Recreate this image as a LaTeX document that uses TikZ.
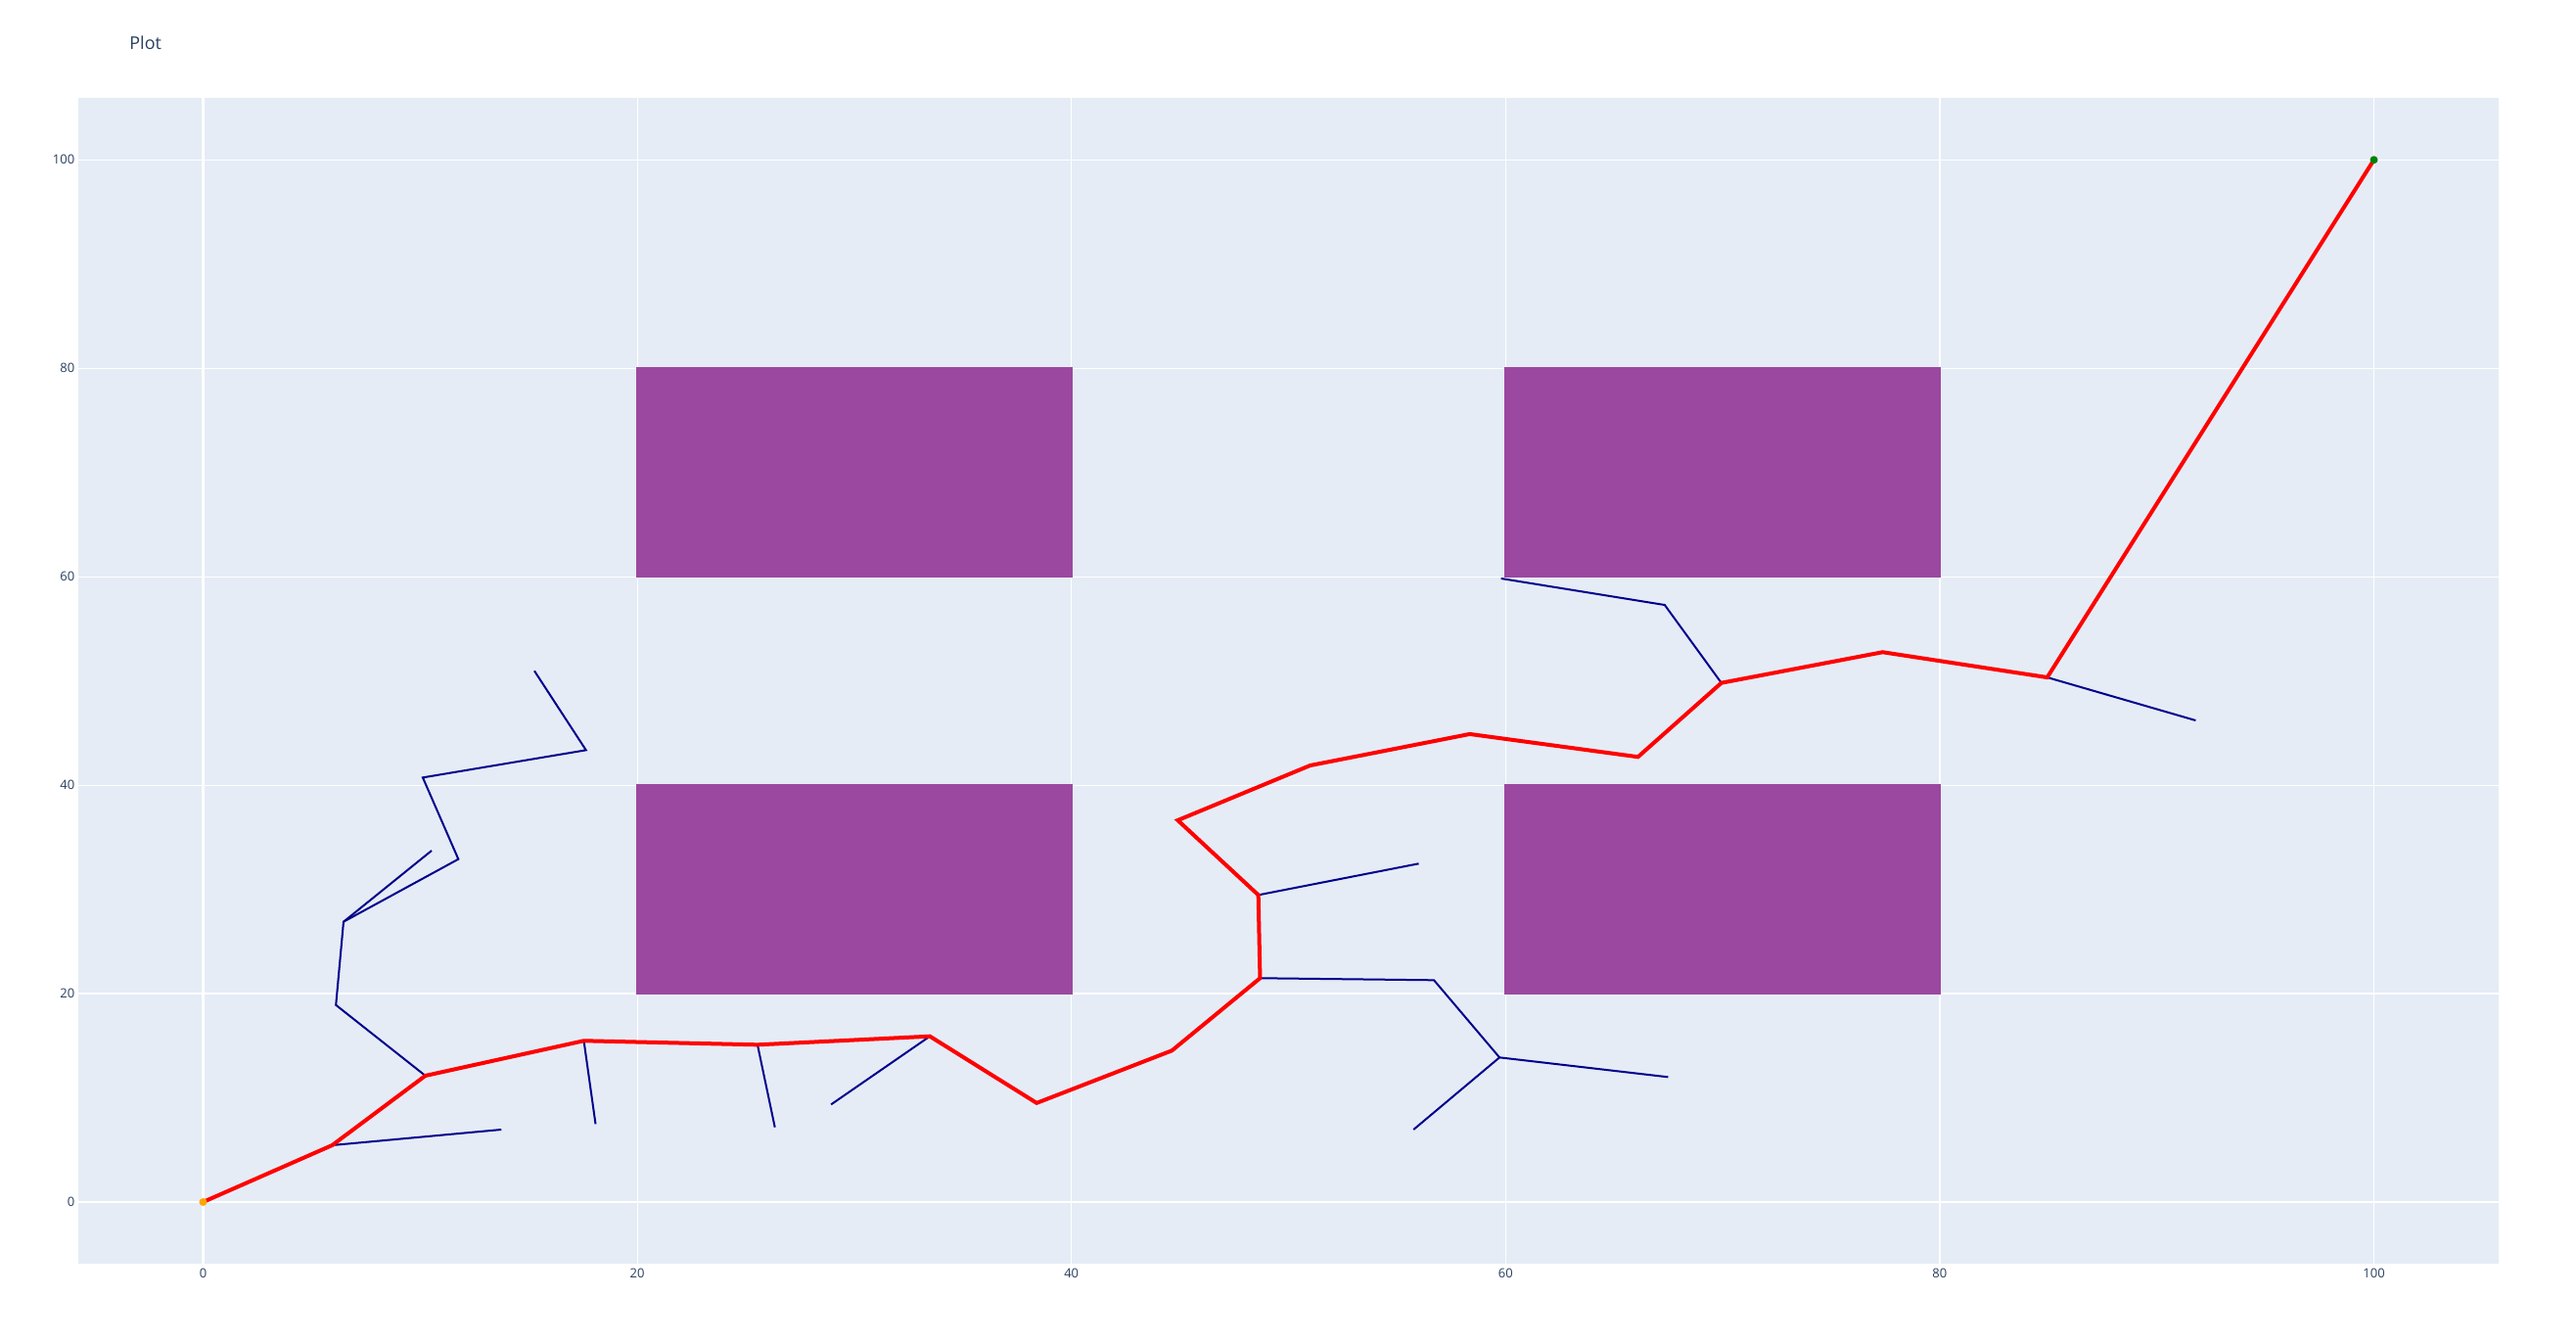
\documentclass[tikz,border=0pt]{standalone}
\usepackage{fontspec}
\setmainfont{Open Sans}

\begin{document}
\begin{tikzpicture}[
        x=0.4436cm, y=0.21294cm,
        gridline/.style={draw=white, line width=0.024cm},
        zeroline/.style={draw=white, line width=0.048cm},
        obstacle/.style={fill=Obstacle, draw=Obstacle, line width=0.04cm},
        branch/.style={draw=Branch, line width=0.04cm, line join=miter},
        route/.style={draw=Route, line width=0.08cm, line join=miter},
        marker/.style={circle, inner sep=0pt, minimum size=0.16cm},
        ticklabel/.style={text=Axis, font=\fontsize{7.4}{8}\selectfont, inner sep=0pt},
    ]
        \definecolor{Plotbg}{RGB}{229,236,246}
        \definecolor{Axis}{RGB}{42,63,95}
        \definecolor{Obstacle}{RGB}{155,72,160}
        \definecolor{Branch}{RGB}{0,0,139}
        \definecolor{Route}{RGB}{255,0,0}
        \definecolor{Start}{RGB}{255,165,0}
        \definecolor{Goal}{RGB}{0,128,0}

        % Canvas
        \useasboundingbox (-9.355,-13.43) rectangle (109.31,115.34);
        \fill[white] (-9.355,-13.43) rectangle (109.31,115.34);
        \fill[Plotbg] (-5.76,-5.92) rectangle (105.75,105.95);

        % Grid
        \foreach \v in {20,40,...,100} {
            \draw[gridline] (\v,-5.92) -- (\v,105.95);
            \draw[gridline] (-5.76,\v) -- (105.75,\v);
        }
        \draw[zeroline] (0,-5.92) -- (0,105.95);
        \draw[zeroline] (-5.76,0) -- (105.75,0);

        % Ticks
        \foreach \v in {0,20,...,100} {
            \node[ticklabel] (xtick\v) at (\v,-6.83) {\v};
            \node[ticklabel, anchor=east] (ytick\v) at (-5.9,\v) {\v};
        }

        % Title
        \node[anchor=base west, text=Axis, font=\fontsize{10.2}{12}\selectfont, inner sep=0pt] (title) at (-3.40,110.57) {Plot};

        % Obstacles
        \filldraw[obstacle] (20,20) rectangle (40,40);
        \filldraw[obstacle] (20,60) rectangle (40,80);
        \filldraw[obstacle] (60,20) rectangle (80,40);
        \filldraw[obstacle] (60,60) rectangle (80,80);

        % Route vertices
        \coordinate (p0) at (0,0);
        \coordinate (p1) at (5.95,5.45);
        \coordinate (p2) at (10.24,12.12);
        \coordinate (p3) at (17.54,15.47);
        \coordinate (p4) at (25.54,15.09);
        \coordinate (p5) at (33.48,15.9);
        \coordinate (p6) at (38.4,9.5);
        \coordinate (p7) at (44.63,14.53);
        \coordinate (p8) at (48.69,21.48);
        \coordinate (p9) at (48.61,29.46);
        \coordinate (p10) at (44.9,36.63);
        \coordinate (p11) at (51.0,41.89);
        \coordinate (p12) at (58.35,44.9);
        \coordinate (p13) at (66.1,42.71);
        \coordinate (p14) at (69.94,49.81);
        \coordinate (p15) at (77.37,52.76);
        \coordinate (p16) at (84.95,50.34);
        \coordinate (p17) at (100,100);

        % Tree vertices
        \coordinate (b1) at (13.74,6.95);
        \coordinate (b2) at (6.12,18.9);
        \coordinate (b3) at (6.47,26.89);
        \coordinate (b4) at (11.76,32.9);
        \coordinate (b5) at (10.12,40.73);
        \coordinate (b6) at (17.64,43.36);
        \coordinate (b7) at (15.26,50.97);
        \coordinate (b8) at (10.53,33.72);
        \coordinate (b9) at (18.08,7.48);
        \coordinate (b10) at (26.34,7.17);
        \coordinate (b11) at (28.93,9.36);
        \coordinate (b12) at (56.0,32.47);
        \coordinate (b13) at (56.7,21.29);
        \coordinate (b14) at (59.72,13.87);
        \coordinate (b15) at (55.76,6.95);
        \coordinate (b16) at (67.49,11.99);
        \coordinate (b17) at (67.33,57.29);
        \coordinate (b18) at (59.79,59.83);
        \coordinate (b19) at (91.79,46.21);

        % Tree edges
        \draw[branch] (p1) -- (b1);
        \draw[branch] (p2) -- (b2) -- (b3) -- (b4) -- (b5) -- (b6) -- (b7);
        \draw[branch] (b3) -- (b8);
        \draw[branch] (p3) -- (b9);
        \draw[branch] (p4) -- (b10);
        \draw[branch] (p5) -- (b11);
        \draw[branch] (p9) -- (b12);
        \draw[branch] (p8) -- (b13) -- (b14) -- (b15);
        \draw[branch] (b14) -- (b16);
        \draw[branch] (p14) -- (b17) -- (b18);
        \draw[branch] (p16) -- (b19);

        % Route
        \draw[route] (p0) -- (p1) -- (p2) -- (p3) -- (p4) -- (p5) -- (p6) -- (p7) -- (p8)
            -- (p9) -- (p10) -- (p11) -- (p12) -- (p13) -- (p14) -- (p15) -- (p16) -- (p17);

        % Start and goal
        \node[marker, fill=Start] (start) at (p0) {};
        \node[marker, fill=Goal] (goal) at (p17) {};
    \end{tikzpicture}
\end{document}
